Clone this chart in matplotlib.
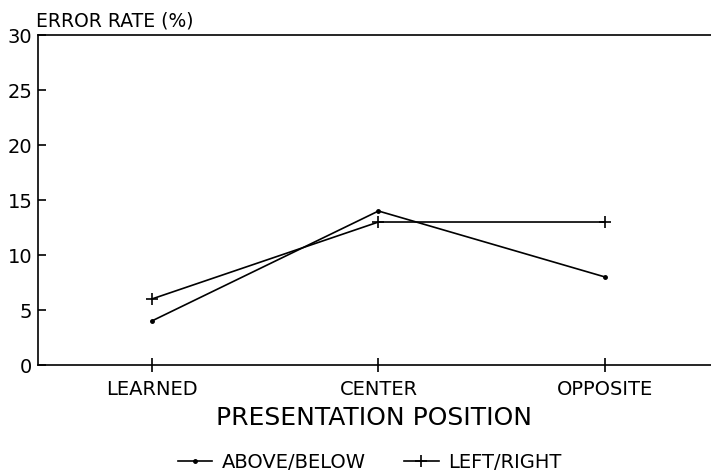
import matplotlib
matplotlib.use('Agg')
import matplotlib.pyplot as plt

positions = ['LEARNED', 'CENTER', 'OPPOSITE']
above_below = [4, 14, 8]
left_right = [6, 13, 13]
y_ticks = [0, 5, 10, 15, 20, 25, 30]

plt.rcParams['font.family'] = ['DejaVu Sans']

fig = plt.figure(figsize=(7.11, 4.73), dpi=100)
ax = fig.add_axes([0.0534, 0.2283, 0.9466, 0.6977])

x = list(range(len(positions)))
ax.plot(x, above_below, color='black', lw=1.2, marker='o', markersize=2.5,
        label='ABOVE/BELOW')
ax.plot(x, left_right, color='black', lw=1.2, marker='+', markersize=8,
        markeredgewidth=1.2, label='LEFT/RIGHT')

ax.set_xlim(-0.502, 2.467)
ax.set_ylim(0, 30)
ax.set_xticks(x)
ax.set_xticklabels(positions, fontsize=14)
ax.set_yticks(y_ticks)
ax.set_yticklabels([str(v) for v in y_ticks], fontsize=14)
ax.tick_params(axis='y', direction='in', length=6, width=1.2, pad=4)
ax.tick_params(axis='x', direction='inout', length=10, width=1.2, pad=6)

ax.spines['right'].set_visible(False)
for s in ['left', 'bottom', 'top']:
    ax.spines[s].set_linewidth(1.2)

ax.set_xlabel('PRESENTATION POSITION', fontsize=18, labelpad=5)
fig.text(0.050, 0.943, 'ERROR RATE (%)', fontsize=13.5, ha='left', va='baseline')

fig.legend(loc='lower center', bbox_to_anchor=(0.52, -0.035), ncol=2,
           frameon=False, fontsize=14, handlelength=1.75, columnspacing=2.0,
           handletextpad=0.5)

fig.savefig('out.png', dpi=100)
